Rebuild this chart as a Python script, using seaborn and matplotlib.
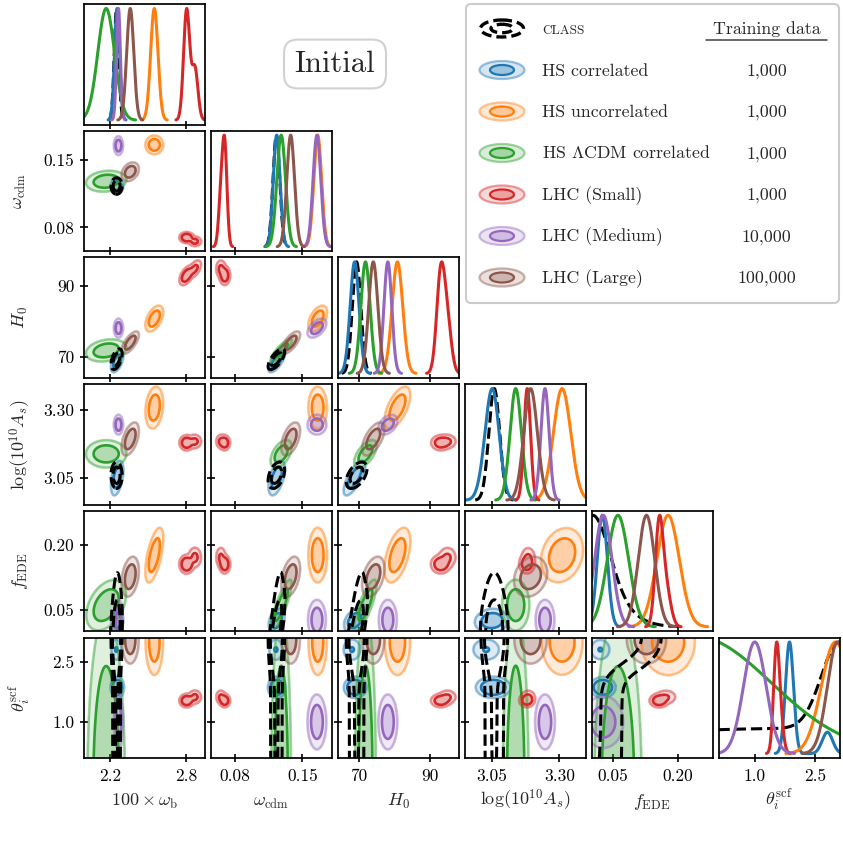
import numpy as np
import pandas as pd
import matplotlib
matplotlib.use("Agg")
import matplotlib.pyplot as plt
import seaborn as sns
from matplotlib.patches import Ellipse, FancyBboxPatch

# ---------------------------------------------------------------- data
PARAM_LABELS = [r'$100\times\omega_{\rm b}$', r'$\omega_{\rm cdm}$', r'$H_0$',
                r'$\log(10^{10}A_s)$', r'$f_{\rm EDE}$', r'$\theta_i^{\rm scf}$']
PARAM_RANGES = [(1.995, 2.95), (0.0552, 0.1805), (64.0, 98.1),
                (2.951, 3.397), (0.0, 0.28), (0.1, 3.1)]
PARAM_TICKS = [[2.2, 2.8], [0.08, 0.15], [70, 90], [3.05, 3.30], [0.05, 0.20], [1.0, 2.5]]
PARAM_TICKLABELS = [['2.2', '2.8'], ['0.08', '0.15'], ['70', '90'],
                    ['3.05', '3.30'], ['0.05', '0.20'], ['1.0', '2.5']]

LEGEND_NAMES = ['CLASS', 'HS correlated', 'HS uncorrelated', r'HS $\Lambda$CDM correlated',
                'LHC (Small)', 'LHC (Medium)', 'LHC (Large)']
TRAINING_DATA = ['', '1,000', '1,000', '1,000', '1,000', '10,000', '100,000']
CHAIN_COLORS = ['black', '#1f77b4', '#ff7f0e', '#2ca02c', '#d62728', '#9467bd', '#8c564b']

# posterior summaries (order: 100wb, wcdm, H0, logAs, fEDE, theta)
CLASS_WEIGHTS = [0.76, 0.24]
CLASS_MEANS = [[2.252, 0.1230, 69.3, 3.060, 0.000, 1.60],
               [2.252, 0.1230, 69.3, 3.060, 0.030, 3.10]]
CLASS_SIGMAS = [[0.018, 0.0035, 1.2, 0.020, 0.040, 5.00],
                [0.018, 0.0035, 1.2, 0.020, 0.060, 0.45]]
CLASS_CORR = {(0, 2): 0.5, (1, 2): 0.7, (1, 3): 0.4, (2, 3): 0.5,
              (0, 4): 0.2, (1, 4): 0.7, (2, 4): 0.7}

HS_CORR_WEIGHTS = [0.8, 0.2]
HS_CORR_MEANS = [[2.258, 0.1235, 68.9, 3.056, 0.026, 1.86],
                 [2.250, 0.1225, 68.0, 3.030, 0.020, 2.80]]
HS_CORR_SIGMAS = [[0.020, 0.0035, 1.2, 0.024, 0.0115, 0.10],
                  [0.020, 0.0035, 1.2, 0.024, 0.0115, 0.13]]
HS_CORR_CORR = {(0, 2): 0.5, (1, 2): 0.7, (0, 3): 0.4, (1, 3): 0.5, (2, 3): 0.7,
                (1, 4): 0.3, (2, 4): 0.3}

HS_UNCORR_WEIGHTS = [1.0]
HS_UNCORR_MEANS = [[2.550, 0.1658, 80.8, 3.310, 0.177, 3.00]]
HS_UNCORR_SIGMAS = [[0.029, 0.0040, 1.5, 0.032, 0.026, 0.35]]
HS_UNCORR_CORR = {(0, 2): 0.5, (1, 2): 0.5, (0, 3): 0.2, (2, 3): 0.6,
                  (0, 4): 0.6, (2, 4): 0.5, (3, 4): 0.2}

HS_LCDM_WEIGHTS = [1.0]
HS_LCDM_MEANS = [[2.170, 0.1280, 71.8, 3.139, 0.061, -0.50]]
HS_LCDM_SIGMAS = [[0.066, 0.0045, 1.3, 0.021, 0.0246, 1.90]]
HS_LCDM_CORR = {(0, 1): 0.15, (0, 2): 0.25, (1, 2): 0.85, (1, 3): 0.5, (2, 3): 0.6,
                (0, 4): 0.4, (1, 4): 0.85, (2, 4): 0.8}

LHC_S_WEIGHTS = [0.68, 0.32]
LHC_S_MEANS = [[2.805, 0.0695, 93.0, 3.180, 0.156, 1.53],
               [2.870, 0.0655, 94.9, 3.185, 0.172, 1.62]]
LHC_S_SIGMAS = [[0.024, 0.0024, 1.15, 0.012, 0.009, 0.07],
                [0.024, 0.0024, 1.15, 0.012, 0.011, 0.08]]
LHC_S_CORR = {(0, 2): 0.5}

LHC_M_WEIGHTS = [1.0]
LHC_M_MEANS = [[2.267, 0.1650, 78.1, 3.247, 0.027, 1.00]]
LHC_M_SIGMAS = [[0.015, 0.0040, 1.1, 0.015, 0.020, 0.28]]
LHC_M_CORR = {(1, 2): 0.5, (2, 3): 0.4}

LHC_L_WEIGHTS = [1.0]
LHC_L_MEANS = [[2.360, 0.1378, 74.0, 3.194, 0.127, 3.05]]
LHC_L_SIGMAS = [[0.028, 0.0040, 1.3, 0.025, 0.019, 0.25]]
LHC_L_CORR = {(0, 1): 0.3, (0, 2): 0.7, (1, 2): 0.7, (0, 3): 0.5, (1, 3): 0.5, (2, 3): 0.6,
              (0, 4): 0.3, (1, 4): 0.4, (2, 4): 0.4, (3, 4): 0.2}

CHAINS = [
    (CLASS_WEIGHTS, CLASS_MEANS, CLASS_SIGMAS, CLASS_CORR),
    (HS_CORR_WEIGHTS, HS_CORR_MEANS, HS_CORR_SIGMAS, HS_CORR_CORR),
    (HS_UNCORR_WEIGHTS, HS_UNCORR_MEANS, HS_UNCORR_SIGMAS, HS_UNCORR_CORR),
    (HS_LCDM_WEIGHTS, HS_LCDM_MEANS, HS_LCDM_SIGMAS, HS_LCDM_CORR),
    (LHC_S_WEIGHTS, LHC_S_MEANS, LHC_S_SIGMAS, LHC_S_CORR),
    (LHC_M_WEIGHTS, LHC_M_MEANS, LHC_M_SIGMAS, LHC_M_CORR),
    (LHC_L_WEIGHTS, LHC_L_MEANS, LHC_L_SIGMAS, LHC_L_CORR),
]

# ---------------------------------------------------------------- style
sns.set_style("ticks")
plt.rcParams.update({
    'font.family': 'serif', 'font.serif': ['cmr10'], 'mathtext.fontset': 'cm',
    'axes.unicode_minus': False, 'axes.linewidth': 1.25, 'axes.edgecolor': 'black',
    'xtick.direction': 'inout', 'ytick.direction': 'inout',
    'xtick.major.size': 6, 'ytick.major.size': 6,
    'xtick.major.width': 1.2, 'ytick.major.width': 1.2,
    'xtick.color': 'black', 'ytick.color': 'black',
    'xtick.labelsize': 12.5, 'ytick.labelsize': 12.5, 'axes.labelsize': 13,
    'xtick.major.pad': 4.5, 'ytick.major.pad': 4,
})

W = H = 843
fig = plt.figure(figsize=(W / 100, H / 100), dpi=100)
NP = 6
COL_LEFT = [84 + j * 126.9 for j in range(NP)]
ROW_TOP = [4 + i * 126.7 for i in range(NP)]
AX_W, AX_H = 121.0, 120.6

DRAW_ORDER = [1, 2, 3, 4, 5, 6, 0]


def density1d(ch, k, x):
    w, mu, sd, _ = ch
    d = np.zeros_like(x)
    for wk, m, s in zip(w, mu, sd):
        d += wk * np.exp(-0.5 * ((x - m[k]) / s[k]) ** 2) / s[k]
    return d


def density2d(ch, jx, iy, X, Y):
    w, mu, sd, rho = ch
    r = rho.get((min(jx, iy), max(jx, iy)), 0.0)
    Z = np.zeros_like(X)
    for wk, m, s in zip(w, mu, sd):
        dx = (X - m[jx]) / s[jx]
        dy = (Y - m[iy]) / s[iy]
        q = (dx * dx - 2 * r * dx * dy + dy * dy) / (1 - r * r)
        Z += wk * np.exp(-0.5 * q) / (s[jx] * s[iy] * np.sqrt(1 - r * r))
    return Z


def hpd_levels(Z, probs=(0.95, 0.68)):
    z = np.sort(Z.ravel())[::-1]
    c = np.cumsum(z)
    c /= c[-1]
    return [z[min(np.searchsorted(c, p), len(z) - 1)] for p in probs]


axes = {}
for i in range(NP):
    for j in range(i + 1):
        left = COL_LEFT[j] / W
        bottom = 1 - (ROW_TOP[i] + AX_H) / H
        ax = fig.add_axes([left, bottom, AX_W / W, AX_H / H])
        axes[(i, j)] = ax
        xr = PARAM_RANGES[j]
        if i == j:
            xs = np.linspace(xr[0], xr[1], 700)
            for c in [0] + DRAW_ORDER[:-1]:
                d = density1d(CHAINS[c], j, xs)
                d = d / d.max()
                idx = np.where(d > 0.002)[0]
                sl = slice(idx[0], idx[-1] + 1)
                df = pd.DataFrame({'x': xs[sl], 'y': d[sl]})
                sns.lineplot(data=df, x='x', y='y', ax=ax, color=CHAIN_COLORS[c],
                             linewidth=2.2, linestyle='--' if c == 0 else '-',
                             estimator=None, sort=False, legend=False)
            ax.set_ylim(-0.04, 1.04)
            ax.set_yticks([])
            ax.set_ylabel('')
        else:
            yr = PARAM_RANGES[i]
            gx = np.linspace(xr[0], xr[1], 400)
            gy = np.linspace(yr[0], yr[1], 400)
            X, Y = np.meshgrid(gx, gy)
            for c in DRAW_ORDER:
                Z = density2d(CHAINS[c], j, i, X, Y)
                l95, l68 = hpd_levels(Z)
                zmax = Z.max() * 1.01
                col = CHAIN_COLORS[c]
                if c == 0:
                    ax.contour(X, Y, Z, levels=[l95, l68], colors=[col], linewidths=2.2,
                               linestyles='--', zorder=5)
                else:
                    ax.contourf(X, Y, Z, levels=[l95, zmax], colors=[col], alpha=0.15)
                    ax.contourf(X, Y, Z, levels=[l68, zmax], colors=[col], alpha=0.25)
                    ax.contour(X, Y, Z, levels=[l95], colors=[col], alpha=0.45, linewidths=1.9)
                    ax.contour(X, Y, Z, levels=[l68], colors=[col], linewidths=1.9)
            ax.set_ylim(*yr)
            ax.set_yticks(PARAM_TICKS[i])
            if j == 0:
                ax.set_yticklabels(PARAM_TICKLABELS[i])
                ax.set_ylabel(PARAM_LABELS[i], rotation=90, ha='center', va='center')
                ax.yaxis.set_label_coords((20 - COL_LEFT[0]) / AX_W, 0.5)
            else:
                ax.set_yticklabels([])
                ax.set_ylabel('')
        ax.set_xlim(*xr)
        ax.set_xticks(PARAM_TICKS[j])
        if i == NP - 1:
            ax.set_xticklabels(PARAM_TICKLABELS[j])
            ax.set_xlabel(PARAM_LABELS[j], va='baseline')
            ax.xaxis.set_label_coords(0.5, (AX_H - (806 - ROW_TOP[i])) / AX_H)
        else:
            ax.set_xticklabels([])
            ax.set_xlabel('')
        for s in ax.spines.values():
            s.set_visible(True)
            s.set_linewidth(1.25)
        ax.tick_params(top=False, right=False)

# ---------------------------------------------------------------- title
fig.text(335 / W, 1 - 64 / H, 'Initial', fontsize=22, ha='center', va='center',
         bbox=dict(boxstyle='round,pad=0.35,rounding_size=0.45', fc='white', ec='0.82', lw=1.5))

# ---------------------------------------------------------------- legend
LW_, LH_ = 376.0, 302.0
axl = fig.add_axes([464.5 / W, 1 - (2.5 + LH_) / H, LW_ / W, LH_ / H])
axl.set_xlim(0, LW_)
axl.set_ylim(LH_, 0)
axl.axis('off')
axl.add_patch(FancyBboxPatch((1.5, 1.5), LW_ - 3, LH_ - 3,
                             boxstyle='round,pad=0,rounding_size=5',
                             fc='white', ec='0.8', lw=1.5, clip_on=False))
row_y = [26 + k * 41.5 for k in range(len(LEGEND_NAMES))]
icon_x, label_x, num_x = 37.5, 78.0, 302.0
for k, (name, num, col) in enumerate(zip(LEGEND_NAMES, TRAINING_DATA, CHAIN_COLORS)):
    yc = row_y[k]
    if k == 0:
        axl.add_patch(Ellipse((icon_x, yc), 43, 17, fc='none', ec='black', lw=2.4, ls=(0, (3, 1.5))))
        axl.add_patch(Ellipse((icon_x, yc), 22, 8.5, fc='none', ec='black', lw=2.4, ls=(0, (3, 1.5))))
        axl.text(label_x, yc + 5.5, name, fontsize=9.5, ha='left', va='baseline')
        axl.text(num_x, yc + 5.5, 'Training data', fontsize=12.8, ha='center', va='baseline')
        axl.plot([241.5, 362], [37.5, 37.5], color='0.25', lw=1.1)
    else:
        axl.add_patch(Ellipse((icon_x, yc), 45, 18, fc=col, alpha=0.18, ec='none'))
        axl.add_patch(Ellipse((icon_x, yc), 45, 18, fc='none', ec=col, alpha=0.45, lw=1.6))
        axl.add_patch(Ellipse((icon_x, yc), 24, 10, fc=col, alpha=0.3, ec='none'))
        axl.add_patch(Ellipse((icon_x, yc), 24, 10, fc='none', ec=col, lw=1.6))
        axl.text(label_x, yc + 5.5, name, fontsize=12.8, ha='left', va='baseline')
        axl.text(num_x, yc + 5.5, num, fontsize=12.8, ha='center', va='baseline')

fig.savefig('out.png', dpi=100)
